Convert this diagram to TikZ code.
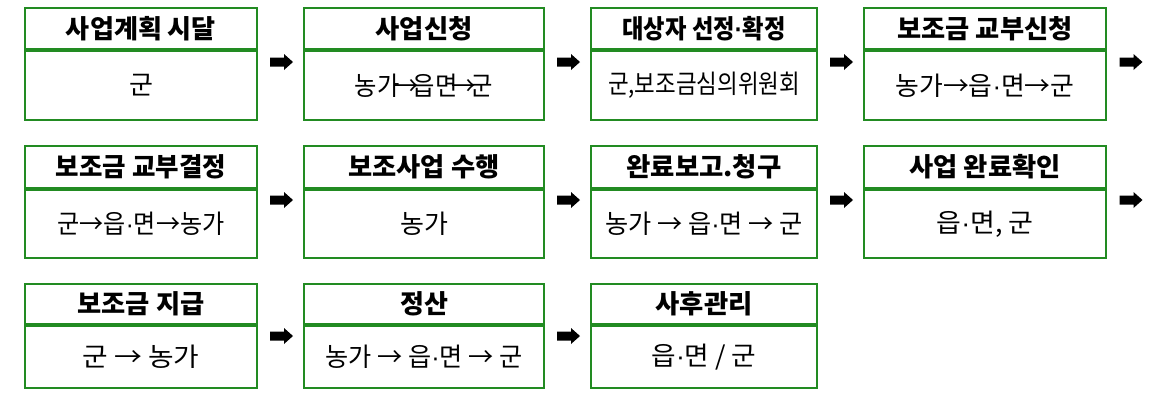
\documentclass[tikz,border=0pt]{standalone}
\usepackage{fontspec}
\setmainfont{Noto Sans CJK KR}
\newfontfamily\lat{Liberation Sans}
\definecolor{boxgreen}{RGB}{34,139,34}
\newcommand{\W}[2]{\resizebox{#1pt}{\height}{#2}}
\newcommand{\md}{{\lat ·}}
\newcommand{\procbox}[8]{%
  \node[hdr, minimum width=#4, minimum height=#5, anchor=north west] (#1h) at (#2,#3) {#7};
  \node[bdy, minimum width=#4, minimum height=#6, anchor=north] (#1b) at (#1h.south) {#8};
}
\begin{document}
\begin{tikzpicture}[x=1pt,y=-1pt,
  hdr/.style={draw=boxgreen, line width=2pt, inner sep=0pt, font=\fontsize{26}{30}\selectfont\bfseries},
  bdy/.style={draw=boxgreen, line width=2pt, inner sep=0pt, font=\fontsize{26}{30}\selectfont},
  blk/.style={fill=black, draw=none}]
\useasboundingbox (0,0) rectangle (1163,400);
% row 1
\procbox{p1}{24}{7}{232pt}{41pt}{69pt}{\W{150}{사업계획 시달}}{군}
\procbox{p2}{303}{7}{240pt}{41pt}{69pt}{\W{97}{사업신청}}{\W{138}{농가\kern-6pt→\kern-6pt읍면\kern-6pt→\kern-6pt군}}
\procbox{p3}{590}{7}{226pt}{41pt}{69pt}{\W{163}{대상자 선정\md 확정}}{\W{192}{군,보조금심의위원회}}
\procbox{p4}{863}{7}{242pt}{41pt}{69pt}{\W{175}{보조금 교부신청}}{\W{179}{농가→읍\md 면→군}}
% row 2
\procbox{p5}{24}{145}{232pt}{42pt}{68pt}{\W{170}{보조금 교부결정}}{\W{167}{군→읍\md 면→농가}}
\procbox{p6}{303}{145}{240pt}{42pt}{68pt}{\W{151}{보조사업 수행}}{농가}
\procbox{p7}{590}{145}{226pt}{42pt}{68pt}{\W{155}{완료보고.청구}}{\W{197}{농가 → 읍\md 면 → 군}}
\procbox{p8}{863}{145}{242pt}{42pt}{68pt}{\W{151}{사업 완료확인}}{\W{97}{읍\md 면, 군}}
% row 3
\procbox{p9}{24}{283}{232pt}{40pt}{62pt}{\W{127}{보조금 지급}}{\W{117}{군 → 농가}}
\procbox{p10}{303}{283}{240pt}{40pt}{62pt}{정산}{\W{197}{농가 → 읍\md 면 → 군}}
\procbox{p11}{590}{283}{226pt}{40pt}{62pt}{\W{97}{사후관리}}{\W{105}{읍\md 면 / 군}}
% block arrows
\foreach \n/\x/\y in {a1/281.5/62, a2/568.5/62, a3/841.5/62, a4/1131/62,
                       a5/281.5/200, a6/568.5/200, a7/841.5/200, a8/1131/200,
                       a9/281.5/336, a10/568.5/336}{
  \coordinate (\n) at (\x,\y);
  \fill[blk] ([shift={(-11.5,-4.5)}]\n) -- ([shift={(2.5,-4.5)}]\n) -- ([shift={(2.5,-8)}]\n)
    -- ([shift={(11.5,0)}]\n) -- ([shift={(2.5,8)}]\n) -- ([shift={(2.5,4.5)}]\n)
    -- ([shift={(-11.5,4.5)}]\n) -- cycle;
}
\end{tikzpicture}
\end{document}
